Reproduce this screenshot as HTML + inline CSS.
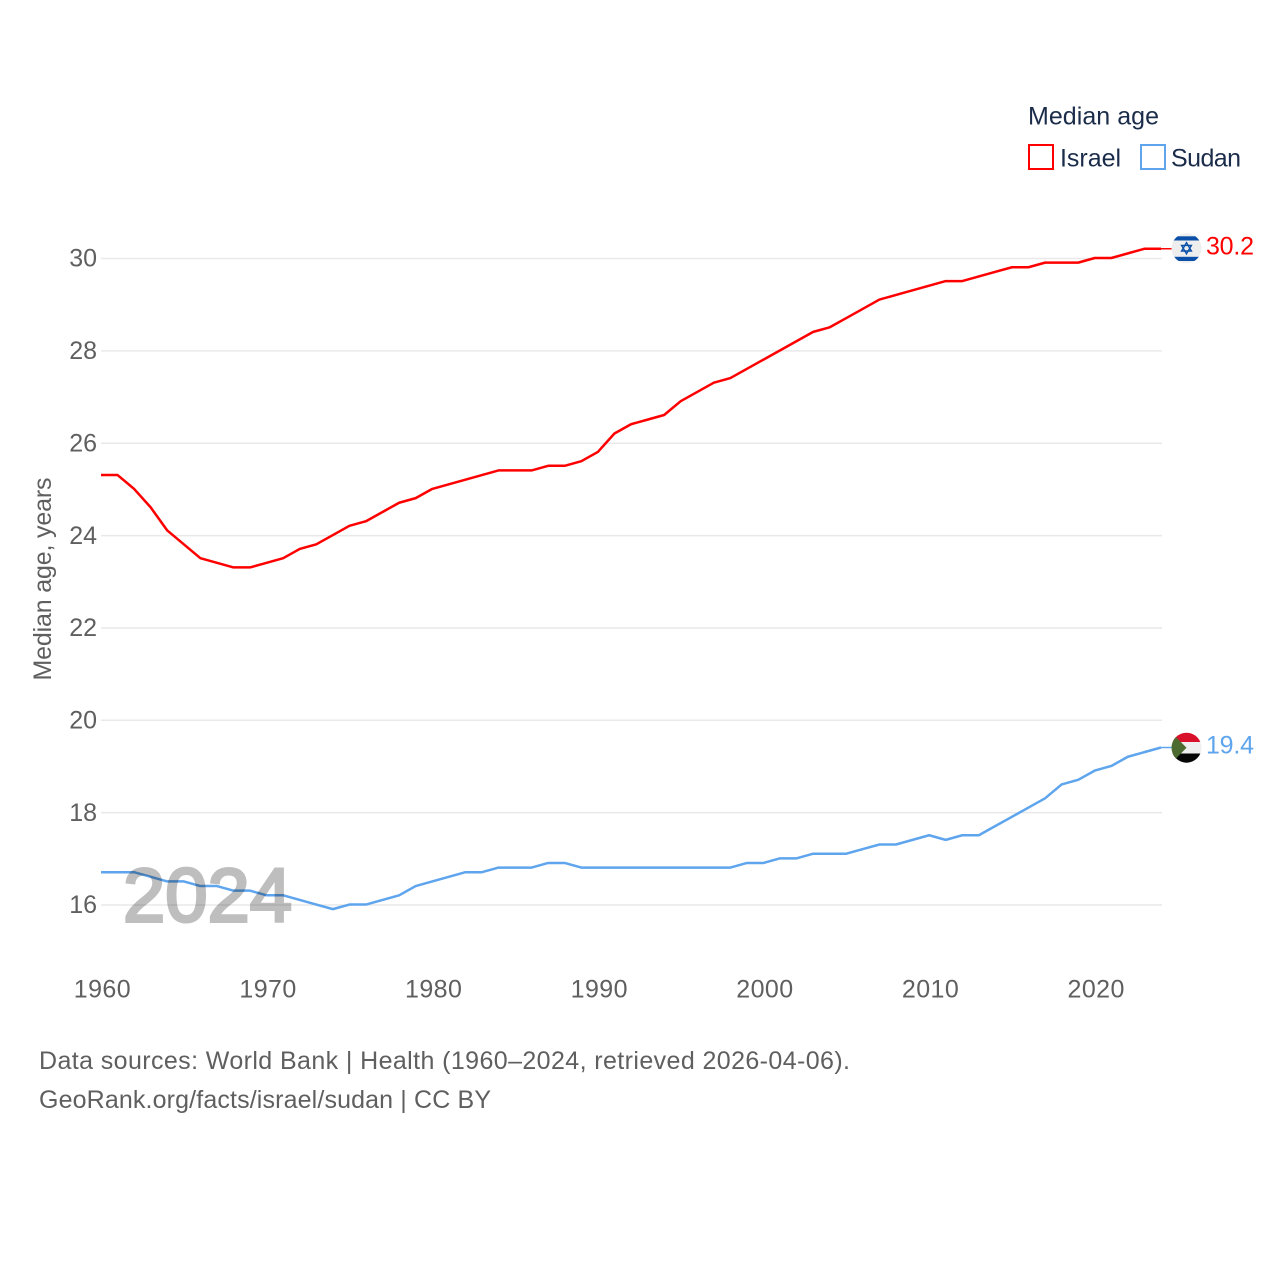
<!DOCTYPE html>
<html lang="en">
<head>
<meta charset="utf-8">
<title>Median age: Israel and Sudan</title>
<style>
  html, body { margin: 0; padding: 0; background: #fff; }
  svg { display: block; font-family: "Liberation Sans", sans-serif; }
</style>
</head>
<body>
<svg id="chart" width="1280" height="1280" viewBox="0 0 1280 1280" xmlns="http://www.w3.org/2000/svg">
  <defs>
    <clipPath id="flag-clip-il"><circle cx="1186.5" cy="248.3" r="15"/></clipPath>
    <clipPath id="flag-clip-sd"><circle cx="1186.5" cy="747.7" r="15"/></clipPath>
  </defs>
  <rect width="1280" height="1280" fill="#fff"/>

  <g id="grid"></g>
  <g id="y-ticks"></g>
  <g id="x-ticks"></g>
  <g id="series" transform="translate(0,-0.5)"></g>

  <text transform="translate(51,579) rotate(-90)" text-anchor="middle" font-size="25" fill="#5f5f5f" textLength="203" lengthAdjust="spacing">Median age, years</text>

  <text x="123" y="921.3" font-size="76" fill="#000" stroke="#000" stroke-width="3" opacity="0.25" textLength="169" lengthAdjust="spacingAndGlyphs">2024</text>

  <g>
    <text x="1028" y="124.5" font-size="25" fill="#1b2c4a" textLength="131" lengthAdjust="spacing">Median age</text>
    <g>
      <rect x="1029" y="145" width="24" height="24" fill="#fff" stroke="#ff0000" stroke-width="2"/>
      <text x="1060" y="166.5" font-size="25" fill="#1b2c4a" textLength="61" lengthAdjust="spacing">Israel</text>
    </g>
    <g>
      <rect x="1141" y="145" width="24" height="24" fill="#fff" stroke="#5ea5ee" stroke-width="2"/>
      <text x="1171" y="166.5" font-size="25" fill="#1b2c4a" textLength="70" lengthAdjust="spacing">Sudan</text>
    </g>
  </g>

  <g clip-path="url(#flag-clip-il)">
    <rect x="1171" y="233" width="31" height="31" fill="#eeeeee"/>
    <rect x="1171" y="236.3" width="31" height="4.2" fill="#0b50a8"/>
    <rect x="1171" y="256.8" width="31" height="4.2" fill="#0b50a8"/>
    <polygon points="1186.5,242.6 1191.4,251 1181.6,251" fill="none" stroke="#0b50a8" stroke-width="1.4"/>
    <polygon points="1186.5,253.8 1191.4,245.4 1181.6,245.4" fill="none" stroke="#0b50a8" stroke-width="1.4"/>
  </g>

  <g clip-path="url(#flag-clip-sd)">
    <rect x="1171" y="732" width="31" height="10" fill="#d9102a"/>
    <rect x="1171" y="742" width="31" height="11.5" fill="#efefef"/>
    <rect x="1171" y="753.5" width="31" height="10" fill="#060606"/>
    <polygon points="1171,732 1186.5,747.7 1171,763.5" fill="#4c6b30"/>
  </g>

  <text id="end-label-israel" x="1206" y="254.5" font-size="25" fill="#ff0000" textLength="48" lengthAdjust="spacing"></text>
  <text id="end-label-sudan" x="1206" y="753.5" font-size="25" fill="#5ea5ee" textLength="48" lengthAdjust="spacing"></text>

  <g>
    <text x="39" y="1069" font-size="25" fill="#5f5f5f" textLength="811" lengthAdjust="spacing">Data sources: World Bank | Health (1960–2024, retrieved 2026-04-06).</text>
    <text x="39" y="1108" font-size="25" fill="#5f5f5f" textLength="452" lengthAdjust="spacing">GeoRank.org/facts/israel/sudan | CC BY</text>
  </g>
</svg>

<script>
const years = [1960,1961,1962,1963,1964,1965,1966,1967,1968,1969,1970,1971,1972,1973,1974,1975,1976,1977,1978,1979,1980,1981,1982,1983,1984,1985,1986,1987,1988,1989,1990,1991,1992,1993,1994,1995,1996,1997,1998,1999,2000,2001,2002,2003,2004,2005,2006,2007,2008,2009,2010,2011,2012,2013,2014,2015,2016,2017,2018,2019,2020,2021,2022,2023,2024];
const israelValues = [25.3,25.3,25.0,24.6,24.1,23.8,23.5,23.4,23.3,23.3,23.4,23.5,23.7,23.8,24.0,24.2,24.3,24.5,24.7,24.8,25.0,25.1,25.2,25.3,25.4,25.4,25.4,25.5,25.5,25.6,25.8,26.2,26.4,26.5,26.6,26.9,27.1,27.3,27.4,27.6,27.8,28.0,28.2,28.4,28.5,28.7,28.9,29.1,29.2,29.3,29.4,29.5,29.5,29.6,29.7,29.8,29.8,29.9,29.9,29.9,30.0,30.0,30.1,30.2,30.2];
const sudanValues = [16.7,16.7,16.7,16.6,16.5,16.5,16.4,16.4,16.3,16.3,16.2,16.2,16.1,16.0,15.9,16.0,16.0,16.1,16.2,16.4,16.5,16.6,16.7,16.7,16.8,16.8,16.8,16.9,16.9,16.8,16.8,16.8,16.8,16.8,16.8,16.8,16.8,16.8,16.8,16.9,16.9,17.0,17.0,17.1,17.1,17.1,17.2,17.3,17.3,17.4,17.5,17.4,17.5,17.5,17.7,17.9,18.1,18.3,18.6,18.7,18.9,19.0,19.2,19.3,19.4];
const yTickValues = [16,18,20,22,24,26,28,30];
const xTickValues = [1960,1970,1980,1990,2000,2010,2020];

const NS = 'http://www.w3.org/2000/svg';
const xScale = function (year) { return 101 + (year - 1960) * 16.5625; };
const yScale = function (value) { return 258.5 + (30 - value) * 46.18; };

function make(tag, parent, attrs) {
  const el = document.createElementNS(NS, tag);
  Object.keys(attrs).forEach(function (k) { el.setAttribute(k, attrs[k]); });
  parent.appendChild(el);
  return el;
}

const gridGroup = document.getElementById('grid');
const yTickGroup = document.getElementById('y-ticks');
const xTickGroup = document.getElementById('x-ticks');
const seriesGroup = document.getElementById('series');

yTickValues.forEach(function (v) {
  const line = make('line', gridGroup, { x1: 101, x2: 1162, y1: yScale(v), y2: yScale(v), stroke: '#e9e9e9', 'stroke-width': 1.5 });
  
  
  const label = make('text', yTickGroup, { x: 97, y: yScale(v) + 8.2, 'text-anchor': 'end', 'font-size': 25, fill: '#5f5f5f' });
  
  
  label.textContent = String(v);
});

xTickValues.forEach(function (y) {
  const label = make('text', xTickGroup, { x: xScale(y) + 1.2, y: 997.5, 'text-anchor': 'middle', 'font-size': 25, fill: '#5f5f5f', textLength: 57, lengthAdjust: 'spacing' });
  
  
  label.textContent = String(y);
});

function drawSeries(name, values, color) {
  const pts = values.map(function (v, i) { return xScale(years[i]).toFixed(2) + ',' + yScale(v).toFixed(2); }).join(' ');
  const line = make('polyline', seriesGroup, { points: pts, fill: 'none', stroke: color, 'stroke-width': 2.5, 'stroke-linejoin': 'round' });
  
  
  const last = values[values.length - 1];
  const lastYear = years[years.length - 1];
  const lead = make('line', seriesGroup, { x1: xScale(lastYear), x2: 1172, y1: yScale(last), y2: yScale(last), stroke: color, 'stroke-width': 1.5 });
  
  
  document.getElementById('end-label-' + name).textContent = last.toFixed(1);
}

drawSeries('israel', israelValues, '#ff0000');
drawSeries('sudan', sudanValues, '#5ea5ee');
</script>
</body>
</html>
